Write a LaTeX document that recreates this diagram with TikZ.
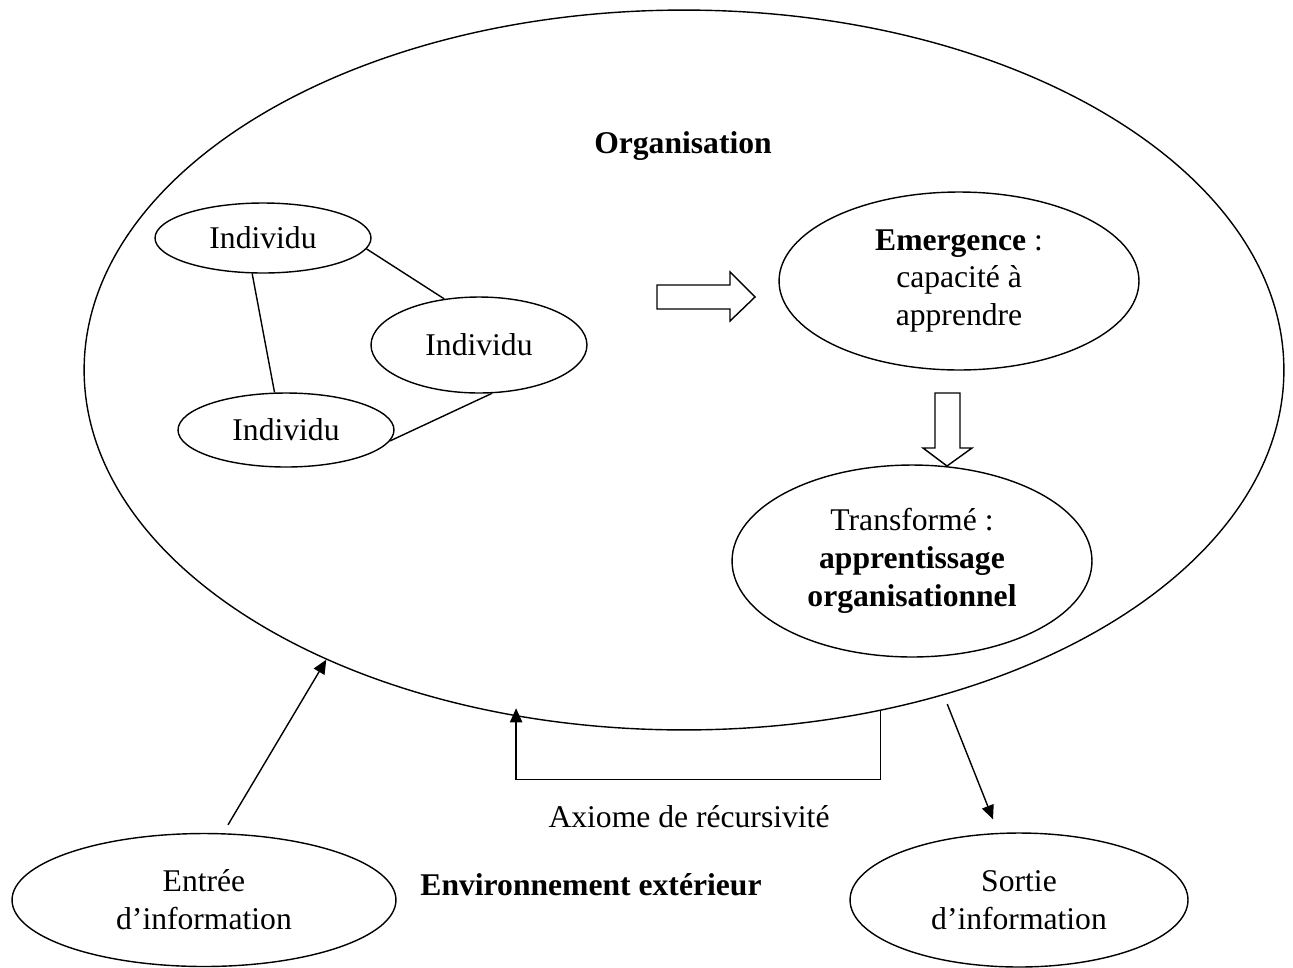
\documentclass[tikz,border=0pt]{standalone}
\usepackage{fontspec}
\setmainfont{Liberation Serif}
\usetikzlibrary{shapes.geometric, arrows.meta, calc}

\tikzset{
    bubble/.style={ellipse, draw, line width=0.8pt, inner sep=0pt, align=center},
    flow/.style={line width=0.8pt, -{Triangle[length=8pt, width=7pt]}}
}

\begin{document}
\begin{tikzpicture}[x=0.02cm, y=-0.02cm, font=\fontsize{18}{21.5}\selectfont]
    \useasboundingbox (0,0) rectangle (1293,967);

    % Organisation
    \node[bubble, minimum width=24cm, minimum height=14.4cm] (org) at (684,370) {};
    \node[anchor=base] (orgtitle) at (683,153) {\textbf{Organisation}};

    % Individus
    \node[bubble, minimum width=4.32cm, minimum height=1.4cm] (ind1) at (263,238) {Individu};
    \node[bubble, minimum width=4.32cm, minimum height=1.92cm] (ind2) at (479,345) {Individu};
    \node[bubble, minimum width=4.32cm, minimum height=1.48cm] (ind3) at (286,430) {Individu};
    \draw[line width=0.8pt] (ind1.-6) -- (ind2.127);
    \draw[line width=0.8pt] (ind1.-107) -- (ind3.107);
    \draw[line width=0.8pt] (ind3.-6) -- (ind2.-75);

    % Emergence
    \node[bubble, minimum width=7.2cm, minimum height=3.56cm] (emerg) at (959,281)
        {\textbf{Emergence} :\\capacité à\\apprendre};
    \draw[line width=0.8pt] (657,285) -- (730,285) -- (730,272) -- (755,297)
        -- (730,321) -- (730,309) -- (657,309) -- cycle;

    % Transforme
    \node[bubble, minimum width=7.2cm, minimum height=3.84cm] (transf) at (912,561)
        {Transformé :\\\textbf{apprentissage}\\\textbf{organisationnel}};
    \draw[line width=0.8pt] (935,393) -- (960,393) -- (960,448) -- (972,448)
        -- (947,466) -- (923,448) -- (935,448) -- cycle;

    % Recursivite
    \draw[flow] (org.-60.2) -- ++(0,69) -| ($(org.-115.9)+(-6,-9)$);
    \node[anchor=base] (axiome) at (689,827) {Axiome de récursivité};

    % Environnement
    \node[bubble, minimum width=7.68cm, minimum height=2.66cm] (entree) at (204,900)
        {Entrée\\d’information};
    \node[bubble, minimum width=6.76cm, minimum height=2.68cm] (sortie) at (1019,900)
        {Sortie\\d’information};
    \node[anchor=base] (env) at (591,895) {\textbf{Environnement extérieur}};
    \draw[flow] ($(entree.north)+(24,-8)$) -- (org.-141.7);
    \draw[flow] ($(org.-50.7)+(-7,12)$) -- ($(sortie.north)+(-26,-13)$);

\end{tikzpicture}
\end{document}
